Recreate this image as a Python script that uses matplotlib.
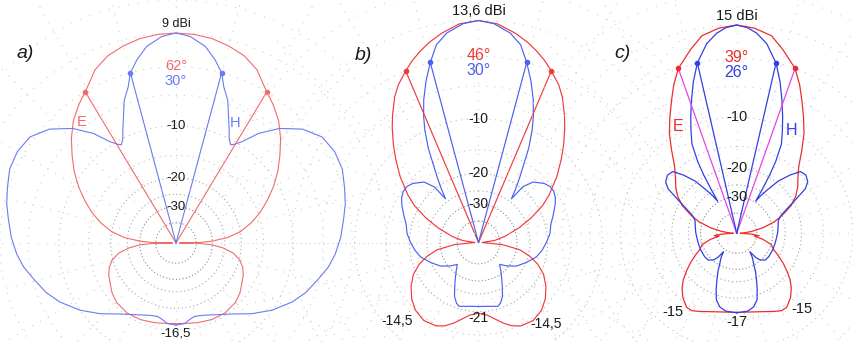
import numpy as np
import matplotlib
matplotlib.use('Agg')
import matplotlib.pyplot as plt

plt.rcParams['font.family'] = ['Liberation Sans', 'DejaVu Sans']

# half patterns (0 = boresight .. 180 = back), dB relative to max, mirrored on plot
a_e_ang = [0, 5, 10, 15, 20, 25, 31, 35, 40, 45, 50, 55, 60, 65, 70, 75, 80, 84, 87, 89, 90,
           91, 93, 96, 100, 105, 110, 115, 121, 128, 135, 145, 155, 165, 172, 180]
a_e_db = [0, -0.05, -0.2, -0.5, -0.9, -1.6, -3.0, -3.7, -4.7, -6.0, -7.5, -9.0, -10.7, -12.6, -14.6,
          -17.0, -20.0, -24, -30, -38, -70, -38, -30, -25.5, -22, -19.8, -18.6, -17.8, -17.2, -16.3,
          -15.7, -15.4, -15.6, -16.0, -16.3, -16.4]
a_h_ang = [0, 4, 8.5, 12, 15, 17, 20, 22.5, 25, 27, 29, 30.5, 33, 37, 42, 48, 54, 60, 66, 72, 77,
           82, 88, 94, 99, 104, 111, 117, 125, 133, 142, 153, 160, 166, 170, 174, 180]
a_h_db = [0, -0.25, -0.95, -1.95, -3.0, -4.3, -5.6, -7.3, -8.8, -10.0, -10.7, -10.4, -9.5, -7.3,
          -5.3, -3.6, -2.6, -2.35, -2.45, -2.9, -3.25, -3.7, -4.15, -4.7, -5.3, -6.1, -7.1, -8.2,
          -10.0, -12.1, -14.5, -16.4, -17.2, -17.5, -17.0, -16.3, -16.1]

b_e_ang = [0, 5, 10, 14, 17, 20, 23, 27, 30, 34, 37, 41, 45, 50, 56, 60, 65, 70, 77, 83, 90,
           95, 100, 105, 110, 116, 123, 130, 137, 145, 153, 158, 163, 168, 173, 180]
b_e_db = [0, -0.2, -0.75, -1.3, -1.8, -2.35, -3.0, -3.9, -4.8, -6.3, -7.5, -9.2, -11.0, -13.3,
          -16.4, -18.8, -23, -28, -36, -45, -70, -38, -28.5, -24.5, -21.6, -19.2, -17.4, -16.0,
          -15.0, -14.5, -14.8, -15.5, -16.6, -17.9, -19.0, -19.6]
b_h_ang = [0, 4, 8.6, 12, 15, 18, 21, 23.5, 25.5, 28, 30, 32.5, 35, 37, 38.5, 42, 48, 52, 56, 60,
           64, 70, 76, 83, 90, 97, 104, 113, 122, 130, 136, 142, 148, 152, 156, 160, 163, 167,
           172, 180]
b_h_db = [0, -0.2, -0.8, -1.6, -3.0, -4.6, -6.4, -8.2, -9.9, -12.5, -15.3, -18.3, -21.3, -24.0,
          -19.5, -17.2, -15.8, -15.3, -15.3, -15.7, -16.4, -17.6, -18.7, -19.3, -20.3, -21.3,
          -22.5, -25.0, -27.5, -31, -34, -31, -27.7, -25.3, -22.7, -21.2, -20.6, -20.9, -21.2, -21.3]

c_e_ang = [0, 5, 10, 14, 19.5, 23, 26, 30, 34, 38, 43, 48, 53, 58, 63, 68, 73, 78, 83, 88, 90,
           93, 96, 99, 103, 108, 114, 118, 123, 127, 131, 135, 140, 146, 150, 155, 160, 166, 172, 180]
c_e_db = [0, -0.2, -0.65, -1.6, -3.0, -4.4, -5.8, -7.6, -9.4, -11.6, -14.2, -15.9, -17.2, -18.8,
          -21, -24.5, -28.5, -35, -45, -60, -70, -45, -38, -42, -35, -30, -28.0, -25.5, -22.6,
          -20.5, -18.5, -17.0, -15.6, -14.5, -14.5, -15.1, -15.7, -16.2, -16.5, -16.6]
c_h_ang = [0, 3, 5.7, 9, 13, 16, 18.7, 21.5, 24.3, 26.6, 28.5, 29.5, 30.2, 30.6, 32.5, 35, 38.5,
           42.5, 46, 50, 54, 57, 60, 64, 68, 73, 80, 88, 96, 105, 115, 126, 133, 139, 142, 144.5,
           147, 151, 154, 157, 160, 163, 167, 172, 180]
c_h_db = [0, -0.2, -0.6, -1.4, -3.0, -4.8, -6.7, -8.7, -10.8, -12.6, -16, -19.5, -24, -29.5, -26.5,
          -23.6, -19.5, -16.6, -14.6, -14.3, -14.8, -16, -19.0, -22.5, -25.2, -26.8, -27.4, -27.8,
          -28.2, -28.4, -28.4, -28.4, -28.6, -30.4, -33, -38, -34, -30.5, -27, -24.2, -21.3, -18.8,
          -17.4, -16.7, -16.5]

beamwidth = {'a': (62, 30), 'b': (46, 30), 'c': (39, 26)}
gain_lbl = {'a': '9 dBi', 'b': '13,6 dBi', 'c': '15 dBi'}

W, H = 854, 342
K = -np.log(0.89) / 2  # ARRL log scale, 0.89 per 2 dB
DB_MIN, DB_MAX = -120, 4.5


def fwd(d):
    return np.exp(K * np.asarray(d, float))


def inv(r):
    return np.log(np.clip(np.asarray(r, float), 1e-12, None)) / K


def full(ang, db):
    ang = np.asarray(ang, float)
    db = np.asarray(db, float)
    th = np.concatenate([-ang[::-1], ang[1:]])
    return np.deg2rad(th), np.concatenate([db[::-1], db[1:]])


fig = plt.figure(figsize=(W / 100, H / 100), dpi=100)


def panel(cx, cy, R, e, h, key, col_e, col_h, col_ln, fs, lw):
    rad = R * (fwd(DB_MAX) - fwd(DB_MIN)) / (1 - fwd(DB_MIN))
    ax = fig.add_axes([(cx - rad) / W, 1 - (cy + rad) / H, 2 * rad / W, 2 * rad / H],
                      projection='polar')
    ax.set_rscale('function', functions=(fwd, inv))
    ax.set_rlim(DB_MIN, DB_MAX)
    ax.set_theta_zero_location('N')
    ax.set_theta_direction(-1)
    ax.set_facecolor('none')
    ax.grid(False)
    ax.set_xticks([])
    ax.set_yticks([])
    ax.spines['polar'].set_visible(False)

    # background grid
    t = np.linspace(0, 2 * np.pi, 721)
    for lev, c, ls in [(-40, '#8a8a8a', (0, (1, 2))), (-30, '#8a8a8a', (0, (1, 2))),
                       (-25, '#a5a5a5', (0, (1, 2.5))), (-20, '#a5a5a5', (0, (1, 2.5))),
                       (-15, '#c0c0c0', (0, (1, 4))), (-10, '#c0c0c0', (0, (1, 4))),
                       (-6, '#cccccc', (0, (1, 6))), (-3, '#cccccc', (0, (1, 6))),
                       (0, '#cccccc', (0, (1, 7))), (2.5, '#d2d2d2', (0, (1, 8)))]:
        ax.plot(t, np.full_like(t, lev), color=c, lw=0.8, ls=ls, zorder=1)
    for a in np.deg2rad(np.arange(0, 360, 15)):
        ax.plot([a, a], [-22, DB_MAX], color='#d0d0d0', lw=0.8, ls=(0, (1, 7)), zorder=1)

    th, db = full(*e)
    ax.plot(th, db, color=col_e, lw=lw, zorder=3)
    th, db = full(*h)
    ax.plot(th, db, color=col_h, lw=lw, zorder=3)

    bw_e, bw_h = beamwidth[key]
    for bw, c, cl in [(bw_e, col_e, col_ln), (bw_h, col_h, col_h)]:
        for s in (-1, 1):
            a = np.deg2rad(s * bw / 2)
            ax.plot([a, a], [-3, DB_MIN], color=cl, lw=lw, zorder=3)
            ax.plot([a], [-3], 'o', color=c, ms=3, zorder=4)

    tc = '#1a1a1a'
    ax.text(0, 0.75, gain_lbl[key], ha='center', va='center', fontsize=fs[0], color=tc, zorder=5)
    for lev in (-10, -20, -30):
        ax.text(0, lev, str(lev), ha='center', va='center', fontsize=fs[1], color=tc, zorder=5)
    ax.text(0, -2.9, f'{bw_e}°', ha='center', va='center', fontsize=fs[2], color=col_e, zorder=5)
    ax.text(0, -4.4, f'{bw_h}°', ha='center', va='center', fontsize=fs[2], color=col_h, zorder=5)
    return ax


ax1 = panel(176, 243, 210, (a_e_ang, a_e_db), (a_h_ang, a_h_db), 'a',
            '#f26b6b', '#6b7bf2', '#f26b6b', (9, 9.5, 10.5), 0.8)
ax2 = panel(478.5, 242.5, 222, (b_e_ang, b_e_db), (b_h_ang, b_h_db), 'b',
            '#f03a3a', '#4c60f0', '#f03a3a', (10.5, 10, 11.5), 0.85)
ax3 = panel(736.7, 233.3, 208.3, (c_e_ang, c_e_db), (c_h_ang, c_h_db), 'c',
            '#ee2c2c', '#3040e4', '#e545e5', (10.5, 10.5, 11.5), 0.9)

tc = '#1a1a1a'
ax1.text(np.pi, -14.5, '-16,5', ha='center', va='center', fontsize=9.5, color=tc, zorder=5)
ax1.text(np.deg2rad(-37.9), -5.4, 'E', ha='center', va='center', fontsize=10.5, color='#f26b6b')
ax1.text(np.deg2rad(26.2), -7.7, 'H', ha='center', va='center', fontsize=10.5, color='#6b7bf2')

ax2.text(np.pi, -18.4, '-21', ha='center', va='center', fontsize=10, color=tc, zorder=5)
ax2.text(np.deg2rad(-134), -11.5, '-14,5', ha='center', va='center', fontsize=10, color=tc)
ax2.text(np.deg2rad(140), -12.7, '-14,5', ha='center', va='center', fontsize=10, color=tc)

ax3.text(np.pi, -14.7, '-17', ha='center', va='center', fontsize=10.5, color=tc, zorder=5)
ax3.text(np.deg2rad(-141), -12.4, '-15', ha='center', va='center', fontsize=10.5, color=tc)
ax3.text(np.deg2rad(139.5), -12.6, '-15', ha='center', va='center', fontsize=10.5, color=tc)
ax3.text(np.deg2rad(-28.7), -9.2, 'E', ha='center', va='center', fontsize=11.5, color='#ee2c2c')
ax3.text(np.deg2rad(28), -9.9, 'H', ha='center', va='center', fontsize=11.5, color='#3040e4')

for lbl, x, y in [('a)', 25, 53), ('b)', 363, 55), ('c)', 622, 53)]:
    fig.text(x / W, 1 - y / H, lbl, ha='center', va='center', fontsize=14,
             style='italic', color=tc)

fig.savefig('out.png', dpi=100)
